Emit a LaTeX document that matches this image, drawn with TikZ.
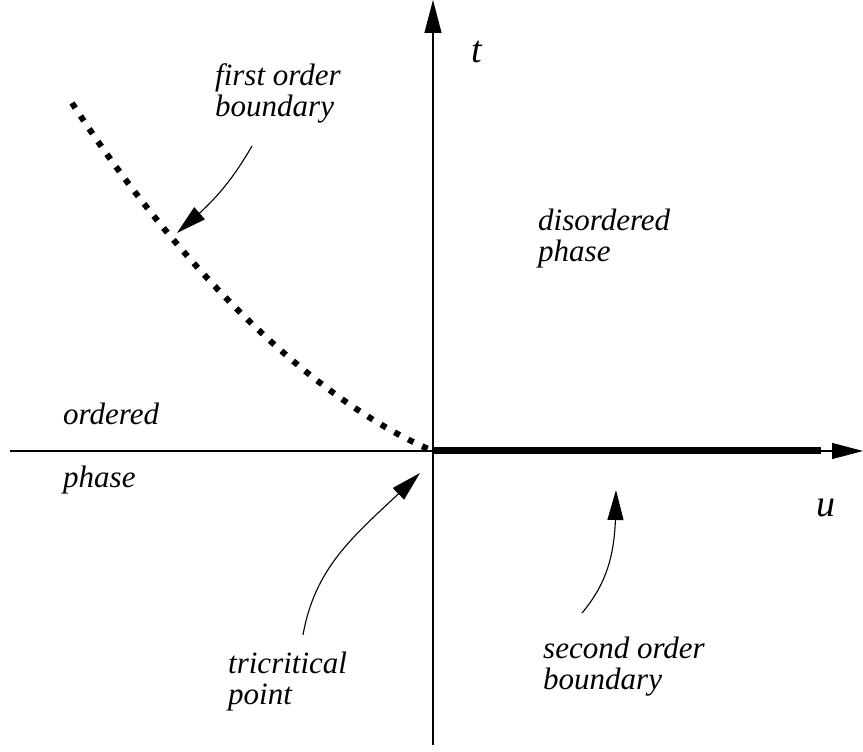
\documentclass[tikz,border=0pt]{standalone}
\usepackage{fontspec}
\setmainfont{Liberation Serif}
\usetikzlibrary{arrows.meta,bending}

\tikzset{
  txt/.style={font=\fontsize{31}{31}\selectfont\itshape, align=left, inner sep=0pt, anchor=base west},
  axtxt/.style={font=\fontsize{38}{40}\selectfont\itshape, inner sep=0pt},
  pointer/.style={-{Triangle[length=30pt,width=16pt]}, line width=1.1pt},
}

\begin{document}
\begin{tikzpicture}[x=1pt,y=1pt]
    \useasboundingbox (-433,-301) rectangle (430,451);
    \coordinate (O) at (0,0);

    % Axes
    \coordinate (xl) at (-423,0);
    \coordinate (xr) at (430,0);
    \coordinate (yb) at (0,-294);
    \coordinate (yt) at (0,451);
    \draw[-{Triangle[length=31pt,width=16pt]}, line width=1.1pt] (xl) -- (xr);
    \draw[-{Triangle[length=33pt,width=17pt]}, line width=1.1pt] (yb) -- (yt);
    \node[axtxt] (tlab) at (44,399) {t};
    \node[axtxt] (ulab) at (393,-57) {u};

    % Second order line
    \coordinate (send) at (388,0);
    \draw[line width=7pt] (O) -- (send);

    % First order line (dotted)
    \coordinate (ftop) at (-361,348);
    \draw[line width=6pt, dash pattern=on 6pt off 9.5pt] (ftop) .. controls (-265,200) and (-130,55) .. (O);

    % Labels (base = last line)
    \node[txt] (first) at (-218,334) {first order\\boundary};
    \node[txt] (dis) at (105,189) {disordered\\phase};
    \node[txt] (ord) at (-370,26) {ordered};
    \node[txt] (ordph) at (-370,-37) {phase};
    \node[txt] (tri) at (-205,-254) {tricritical\\point};
    \node[txt] (sec) at (110,-239) {second order\\boundary};

    % Pointers
    \coordinate (fa) at (-181,305);
    \coordinate (fb) at (-256,218);
    \coordinate (ta) at (-130,-184);
    \coordinate (tb) at (-13,-22);
    \coordinate (sa) at (149,-162);
    \coordinate (sb) at (183,-39);
    \draw[pointer] (fa) to[out=240,in=40] (fb);
    \draw[pointer] (ta) to[out=80,in=225] (tb);
    \draw[pointer] (sa) to[out=50,in=270] (sb);
\end{tikzpicture}
\end{document}
